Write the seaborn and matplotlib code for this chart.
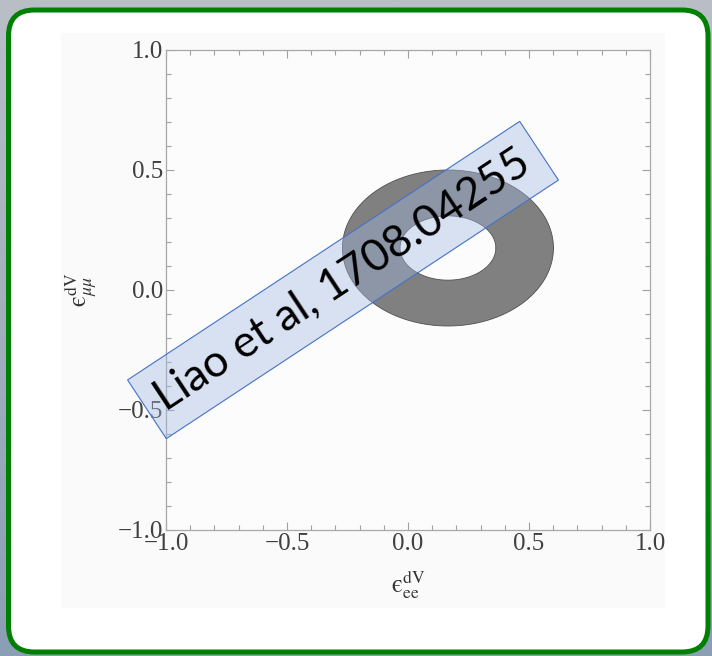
import numpy as np
import matplotlib
matplotlib.use("Agg")
import matplotlib.pyplot as plt
import seaborn as sns
from matplotlib.path import Path
from matplotlib.patches import PathPatch, FancyBboxPatch, Rectangle
from matplotlib.transforms import IdentityTransform
from matplotlib.ticker import MultipleLocator, FuncFormatter

# Allowed region: annulus between two concentric ellipses
center = [0.165, 0.175]          # (eps_ee, eps_mumu)
outer_radii = [0.436, 0.325]
inner_radii = [0.198, 0.134]

x_ticks = [-1.0, -0.5, 0.0, 0.5, 1.0]
y_ticks = [-1.0, -0.5, 0.0, 0.5, 1.0]
x_label = "$\\mathrm{\u03f5}_{\\rm ee}^{\\rm dV}$"
y_label = "$\\mathrm{\u03f5}_{\\mu\\mu}^{\\rm dV}$"
stamp = "Liao et al, 1708.04255"

sns.set_theme(style="ticks")
plt.rcParams["font.family"] = ["Liberation Serif", "DejaVu Serif"]
plt.rcParams["mathtext.fontset"] = "stix"

fig = plt.figure(figsize=(7.12, 6.56), dpi=100)

# slide background gradient
bg = fig.add_axes([0, 0, 1, 1], zorder=-3)
grad = np.linspace(0, 1, 256)[:, None]
top_c = np.array([186, 191, 199]) / 255
bot_c = np.array([138, 158, 182]) / 255
bg.imshow(top_c + grad[..., None] * (bot_c - top_c), aspect="auto", extent=[0, 1, 0, 1])
bg.set_axis_off()

# white rounded panel with green border
panel = FancyBboxPatch((8.5, 4), 699.5, 642, boxstyle="round,pad=0,rounding_size=26",
                       facecolor="white", edgecolor="#008000", linewidth=3.6,
                       transform=IdentityTransform(), zorder=-2)
fig.add_artist(panel)
# pasted figure background
fig.add_artist(Rectangle((61, 48), 604, 575, facecolor="#fafafa", edgecolor="none",
                         transform=IdentityTransform(), zorder=-1))

ax = fig.add_axes([166 / 712, 126 / 656, 484 / 712, 480 / 656])
ax.set_facecolor("#fcfcfc")

# annulus
t = np.linspace(0, 2 * np.pi, 400)
ox = center[0] + outer_radii[0] * np.cos(t)
oy = center[1] + outer_radii[1] * np.sin(t)
ix = center[0] + inner_radii[0] * np.cos(t[::-1])
iy = center[1] + inner_radii[1] * np.sin(t[::-1])
verts = np.concatenate([np.column_stack([ox, oy]), np.column_stack([ix, iy])])
codes = np.full(len(verts), Path.LINETO)
codes[0] = Path.MOVETO
codes[len(t)] = Path.MOVETO
ax.add_patch(PathPatch(Path(verts, codes), facecolor="#808080", edgecolor="none", zorder=2))
sns.lineplot(x=ox, y=oy, sort=False, estimator=None, color="#505050", lw=0.6, ax=ax, zorder=3)
sns.lineplot(x=ix, y=iy, sort=False, estimator=None, color="#505050", lw=0.6, ax=ax, zorder=3)

minus_fmt = FuncFormatter(lambda v, p: f"{v:.1f}".replace("-", "\u2212"))
ax.set_xlim(-1, 1)
ax.set_ylim(-1, 1)
ax.set_xticks(x_ticks)
ax.set_yticks(y_ticks)
ax.xaxis.set_minor_locator(MultipleLocator(0.1))
ax.yaxis.set_minor_locator(MultipleLocator(0.1))
ax.xaxis.set_major_formatter(minus_fmt)
ax.yaxis.set_major_formatter(minus_fmt)
ax.tick_params(which="both", direction="in", top=True, right=True, color="#a0a0a0",
               labelsize=18, labelcolor="#404040", width=0.8)
ax.tick_params(which="major", length=6, pad=2)
ax.tick_params(which="minor", length=3.5)
for s in ax.spines.values():
    s.set_color("#a8a8a8")
    s.set_linewidth(0.9)
ax.set_xlabel(x_label, fontsize=18, color="#333333", labelpad=10)
ax.set_ylabel(y_label, fontsize=18, color="#333333", labelpad=13)

# pasted citation box
fig.text(343 / 712, 1 - 280 / 656, stamp, family=["Lato", "DejaVu Sans"], fontsize=32,
         color="black", rotation=33.4, rotation_mode="anchor", ha="center", va="center",
         zorder=5,
         bbox=dict(boxstyle="square,pad=0.33", facecolor=(0.635, 0.725, 0.882, 0.4),
                   edgecolor="#4472c4", linewidth=0.8))

fig.savefig("out.png", dpi=100)
